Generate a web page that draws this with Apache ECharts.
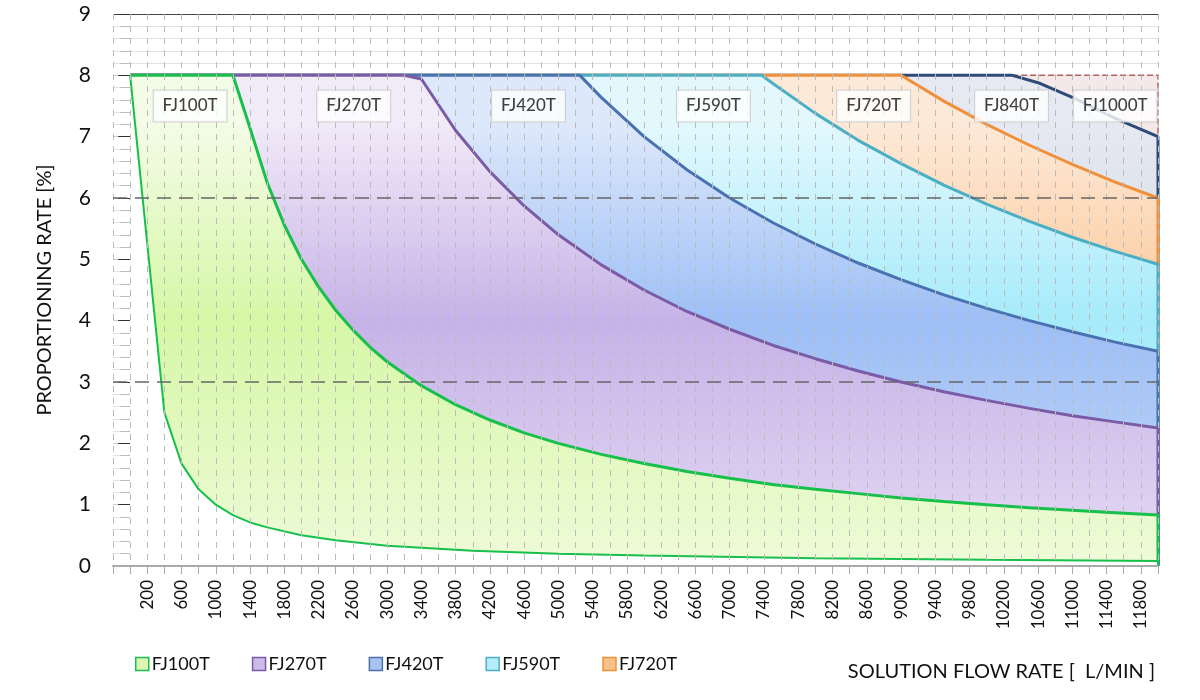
<!DOCTYPE html>
<html><head><meta charset="utf-8">
<script src="https://cdn.jsdelivr.net/npm/echarts@6/dist/echarts.min.js"></script>
<style>html,body{margin:0;padding:0;background:#fff}#c{width:1200px;height:700px}</style>
</head><body><div id="c"></div>
<script>
const seriesNames = ['FJ100T','FJ270T','FJ420T','FJ590T','FJ720T','FJ840T','FJ1000T'];
const fj100 = [[0,8],[1200,8],[1400,7.14],[1600,6.25],[1800,5.56],[2000,5],[2200,4.55],[2400,4.17],[2600,3.85],[2800,3.57],[3000,3.33],[3400,2.94],[3800,2.63],[4200,2.38],[4600,2.17],[5000,2],[5500,1.82],[6000,1.67],[6500,1.54],[7000,1.43],[7500,1.33],[8000,1.25],[8500,1.18],[9000,1.11],[9500,1.05],[10000,1],[10500,0.95],[11000,0.91],[11500,0.87],[12000,0.83],[12000,0]];
const fj100min = [[0,8],[400,2.5],[600,1.67],[800,1.25],[1000,1],[1200,0.83],[1400,0.71],[1600,0.63],[2000,0.5],[2400,0.42],[3000,0.33],[4000,0.25],[5000,0.2],[6000,0.17],[8000,0.125],[10000,0.1],[12000,0.083],[12000,0]];
const fj270 = [[0,8],[3200,8],[3400,7.94],[3800,7.1],[4200,6.43],[4600,5.87],[5000,5.4],[5500,4.91],[6000,4.5],[6500,4.15],[7000,3.86],[7500,3.6],[8000,3.38],[8500,3.18],[9000,3],[9500,2.84],[10000,2.7],[10500,2.57],[11000,2.45],[11500,2.35],[12000,2.25],[12000,0]];
const fj420 = [[0,8],[5250,8],[5500,7.64],[6000,7],[6500,6.46],[7000,6],[7500,5.6],[8000,5.25],[8500,4.94],[9000,4.67],[9500,4.42],[10000,4.2],[10500,4],[11000,3.82],[11500,3.65],[12000,3.5],[12000,0]];
const fj590 = [[0,8],[7375,8],[7500,7.87],[8000,7.38],[8500,6.94],[9000,6.56],[9500,6.21],[10000,5.9],[10500,5.62],[11000,5.36],[11500,5.13],[12000,4.92],[12000,0]];
const fj720 = [[0,8],[9000,8],[9500,7.58],[10000,7.2],[10500,6.86],[11000,6.55],[11500,6.26],[12000,6],[12000,0]];
const fj840 = [[0,8],[10300,8],[10600,7.88],[11000,7.64],[11500,7.3],[12000,7],[12000,0]];
const fj1000 = [[0,8],[12000,8],[12000,0]];
const labelPos = [[700,7.5],[2610,7.5],[4650,7.5],[6810,7.5],[8680,7.5],[10290,7.5],[11500,7.5]];
const refLines = [3,6];

const styles = {
  FJ1000T:{line:'#b06060',top:'#f4e8e8',mid:'#efdcdc',bot:'#f2e4e4',dash:true,leg:'#e6caca'},
  FJ840T:{line:'#2e4a78',top:'#e6e9f1',mid:'#d3d9e5',bot:'#dde2ec',leg:'#c4cde0'},
  FJ720T:{line:'#f0903a',top:'#fde9d8',mid:'#fcc898',bot:'#fcd9b8',leg:'#f8c08a'},
  FJ590T:{line:'#4aaec4',top:'#e2f8fd',mid:'#a6ebfb',bot:'#c8f2fb',leg:'#b5ecf8'},
  FJ420T:{line:'#4a72b0',top:'#dde8fb',mid:'#9dbff6',bot:'#c4d7f8',leg:'#a9c3ef'},
  FJ270T:{line:'#7b5aa6',top:'#f1eaf8',mid:'#c7b2e8',bot:'#e4daf3',leg:'#cdb9ea'},
  FJ100T:{line:'#16c04a',top:'#f3fce6',mid:'#d6f7a6',bot:'#eefbd8',leg:'#dcf5b4'}
};
const dataMap = {FJ100T:fj100,FJ270T:fj270,FJ420T:fj420,FJ590T:fj590,FJ720T:fj720,FJ840T:fj840,FJ1000T:fj1000};
const font = 'Lato, "Noto Sans", sans-serif';

const order = ['FJ1000T','FJ840T','FJ720T','FJ590T','FJ420T','FJ270T','FJ100T'];
const series = order.map((n,i)=>{
  const s = styles[n];
  return {
    name:n, type:'line', data:dataMap[n], symbol:'none', z:1+i*0.01,
    lineStyle:{color:s.line,width:s.dash?1.5:3,type:s.dash?'dashed':'solid'},
    itemStyle:{color:s.leg,borderColor:s.line},
    areaStyle:{origin:'start',opacity:1,color:{type:'linear',x:0,y:0,x2:0,y2:1,colorStops:[
      {offset:0.1,color:s.top},{offset:0.5,color:s.mid},{offset:1,color:s.bot}]}}
  };
});
series.push({
  name:'min', type:'line', data:fj100min, symbol:'none', z:1.5,
  lineStyle:{color:'#16c04a',width:2},
  areaStyle:{origin:'start',color:'#ffffff',opacity:1}
});
series.push({
  name:'labels', type:'scatter', z:20, symbolSize:0,
  data:labelPos.map((p,i)=>({value:p,name:seriesNames[i]})),
  label:{show:true,formatter:p=>p.name,position:'inside',color:'#111',fontFamily:font,fontSize:17,fontWeight:500,
    backgroundColor:'#fff',borderColor:'#c8c8c8',borderWidth:1,padding:[8,9,6,9]},
  markLine:{silent:true,symbol:'none',label:{show:false},
    lineStyle:{color:'#666',type:[14,8],width:1.5},
    data:refLines.map(v=>({yAxis:v}))}
});

const chart = echarts.init(document.getElementById('c'));
chart.setOption({
  animation:false,
  grid:{left:113,right:42,top:14,bottom:134},
  legend:{
    left:130, top:650, width:620, itemWidth:13, itemHeight:13, itemGap:42,
    icon:'rect', textStyle:{fontFamily:font,fontSize:18,color:'#111',padding:[0,0,0,-2]},
    data:seriesNames.map(n=>({name:n,itemStyle:{color:styles[n].leg,borderColor:styles[n].line,borderWidth:1.5}}))
  },
  xAxis:{
    type:'value', min:-200, max:12000, interval:200, z:5,
    name:'SOLUTION FLOW RATE [  L/MIN ]', nameLocation:'end',
    nameTextStyle:{fontFamily:font,fontSize:20,color:'#111',align:'right',verticalAlign:'top',padding:[96,18,0,0]},
    axisLine:{lineStyle:{color:'#aaa',width:2}},
    axisTick:{show:true,length:8,lineStyle:{color:'#aaa'}},
    axisLabel:{rotate:90,fontFamily:font,fontSize:17,color:'#111',margin:14,
      formatter:v=>(v>0 && (v-200)%400===0 && v<12000)?String(v):''},
    splitLine:{show:true,lineStyle:{color:'#bbb',type:[6,6],width:1}}
  },
  yAxis:{
    type:'value', min:0, max:9, interval:1,
    name:'PROPORTIONING RATE [%]', nameLocation:'middle', nameGap:58, nameRotate:90,
    nameTextStyle:{fontFamily:font,fontSize:20,color:'#111'},
    axisLine:{show:false},
    axisTick:{show:true,length:12,lineStyle:{color:'#333'}},
    minorTick:{show:true,splitNumber:5,length:10,lineStyle:{color:'#bbb'}},
    axisLabel:{fontFamily:font,fontSize:21,color:'#111',margin:22},
    splitLine:{show:true,lineStyle:{color:['#ccc','#ccc','#ccc','#ccc','#ccc','#ccc','#ccc','#ccc','#ccc','#444'],width:1}},
    minorSplitLine:{show:true,lineStyle:{color:'#e2e2e2',width:1}}
  },
  series:series
});
</script></body></html>
